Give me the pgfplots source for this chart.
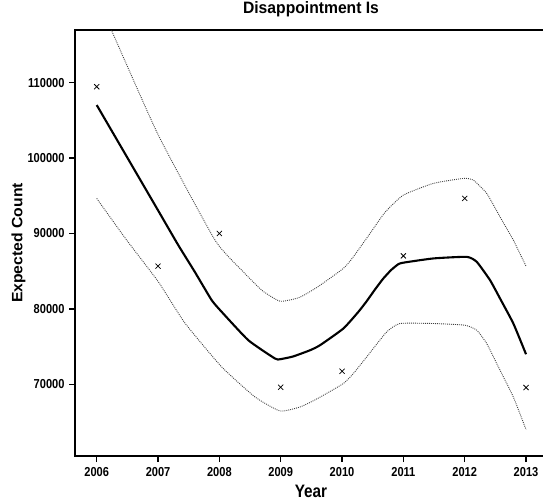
\documentclass[border=0pt]{standalone}
\usepackage{pgfplots}
\pgfplotsset{compat=1.18}
\usepackage{fontspec}
\setmainfont{Liberation Sans}
\newfontfamily\tickfont[FakeStretch=0.85]{Liberation Sans}
\newfontfamily\labfont[FakeStretch=0.85]{Liberation Sans}
\newfontfamily\ylabfont[FakeStretch=1.05]{Liberation Sans}
\newfontfamily\titfont[FakeStretch=0.95]{Liberation Sans}
\begin{document}
\begin{tikzpicture}[x=1pt,y=1pt]
\useasboundingbox (0,0) rectangle (543,501);
\begin{axis}[
  at={(75pt,45pt)}, anchor=south west,
  width=472pt, height=426pt, scale only axis,
  xmin=2005.646, xmax=2013.342, ymin=60482, ymax=116994,
  xtick={2006,2007,2008,2009,2010,2011,2012,2013},
  xticklabels={2006,2007,2008,2009,2010,2011,2012,2013},
  ytick={70000,80000,90000,100000,110000},
  yticklabels={70000,80000,90000,100000,110000},
  scaled y ticks=false, scaled x ticks=false,
  xtick pos=left, ytick pos=left,
  tick align=outside, major tick length=6pt,
  major tick style={line width=1.5pt, black},
  axis line style={line width=2.8pt, black},
  tick label style={font=\tickfont\bfseries\fontsize{13}{15}\selectfont},
  xticklabel style={yshift=-2pt},
  yticklabel style={xshift=-1pt},
  title={Disappointment Is},
  title style={font=\titfont\bfseries\fontsize{16.5}{19}\selectfont, at={(axis description cs:0.5,1.0251)}, anchor=base},
  xlabel={Year},
  xlabel style={font=\labfont\bfseries\fontsize{18}{21}\selectfont, at={(axis description cs:0.5,-0.0979)}, anchor=base},
  ylabel={Expected Count},
  ylabel style={font=\ylabfont\bfseries\fontsize{15}{18}\selectfont, at={(axis description cs:-0.1197,0.5)}, anchor=center, rotate=0},
  clip=true,
]
% upper band
\addplot[black!75, line width=0.9pt, dash pattern=on 0.9pt off 1.1pt, smooth, tension=0.3] coordinates {
(2006.000,120840) (2006.245,116860) (2007.004,103055) (2007.929,89116)
(2008.364,85134) (2008.690,82479) (2008.989,81018) (2009.300,81500)
(2009.600,82900) (2010.021,85359) (2010.184,86899) (2010.456,90005)
(2010.700,92800) (2010.999,95090) (2011.488,96643) (2011.977,97307)
(2012.141,97081) (2012.359,95316) (2012.576,92209) (2012.793,89116)
(2013.000,85665)};
% lower band
\addplot[black!75, line width=0.9pt, dash pattern=on 0.9pt off 1.1pt, smooth, tension=0.3] coordinates {
(2006.000,94652) (2006.489,89116) (2007.004,83600) (2007.440,78098)
(2008.038,72297) (2008.581,68314) (2008.989,66456) (2009.315,66987)
(2009.600,68100) (2010.021,70093) (2010.184,71420) (2010.402,73624)
(2010.728,76943) (2010.945,78058) (2011.488,78058) (2012.005,77832)
(2012.196,77169) (2012.359,75403) (2012.576,71859) (2012.793,68314)
(2013.000,63986)};
% fitted mean
\addplot[black, line width=2.1pt, line join=round, smooth, tension=0.3] coordinates {
(2006.000,107040) (2007.000,93070) (2007.330,88450) (2007.600,84900)
(2007.875,81150) (2008.038,79600) (2008.472,75840) (2008.907,73410)
(2008.989,73320) (2009.200,73680) (2009.478,74510) (2009.641,75180)
(2010.021,77390) (2010.266,79600) (2010.400,81000) (2010.540,82600)
(2010.670,84000) (2010.800,85150) (2010.918,85930) (2011.000,86130)
(2011.488,86690) (2012.033,86900) (2012.196,86240) (2012.413,83810)
(2012.576,81380) (2012.793,78060) (2013.000,73980)};
% observed
\addplot[only marks, mark=x, mark size=3.6pt, black, mark options={line width=0.75pt}] coordinates {
(2006,109467) (2007,85665) (2008,90006) (2009,69602)
(2010,71726) (2011,87032) (2012,94652) (2013,69562)};
\end{axis}
\end{tikzpicture}
\end{document}
